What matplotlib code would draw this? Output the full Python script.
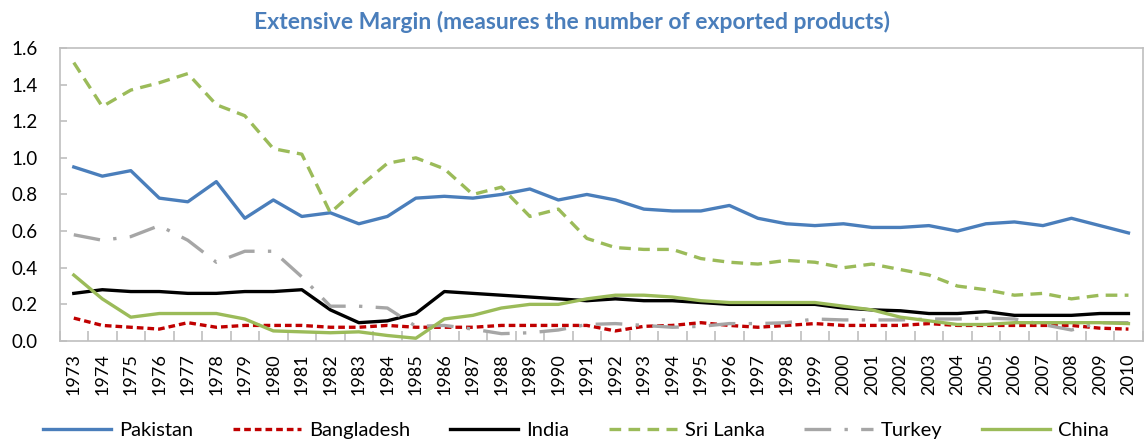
import matplotlib.pyplot as plt
import numpy as np

years = [str(y) for y in range(1973, 2011)]

pakistan = [0.95, 0.90, 0.93, 0.78, 0.76, 0.87, 0.67, 0.77, 0.68, 0.70,
            0.64, 0.68, 0.78, 0.79, 0.78, 0.80, 0.83, 0.77, 0.80, 0.77,
            0.72, 0.71, 0.71, 0.74, 0.67, 0.64, 0.63, 0.64, 0.62, 0.62,
            0.63, 0.60, 0.64, 0.65, 0.63, 0.67, 0.63, 0.59]
bangladesh = [0.125, 0.085, 0.075, 0.065, 0.10, 0.075, 0.085, 0.085, 0.085, 0.075,
              0.075, 0.085, 0.075, 0.075, 0.075, 0.085, 0.085, 0.085, 0.085, 0.055,
              0.08, 0.085, 0.10, 0.085, 0.075, 0.085, 0.095, 0.085, 0.085, 0.085,
              0.095, 0.085, 0.085, 0.085, 0.085, 0.085, 0.07, 0.065]
india = [0.26, 0.28, 0.27, 0.27, 0.26, 0.26, 0.27, 0.27, 0.28, 0.17,
         0.10, 0.11, 0.15, 0.27, 0.26, 0.25, 0.24, 0.23, 0.22, 0.23,
         0.22, 0.22, 0.21, 0.20, 0.20, 0.20, 0.20, 0.18, 0.17, 0.165,
         0.15, 0.15, 0.16, 0.14, 0.14, 0.14, 0.15, 0.15]
sri_lanka = [1.52, 1.28, 1.37, 1.41, 1.46, 1.29, 1.23, 1.05, 1.02, 0.70,
             0.84, 0.97, 1.00, 0.94, 0.80, 0.84, 0.68, 0.72, 0.56, 0.51,
             0.50, 0.50, 0.45, 0.43, 0.42, 0.44, 0.43, 0.40, 0.42, 0.39,
             0.36, 0.30, 0.28, 0.25, 0.26, 0.23, 0.25, 0.25]
turkey = [0.58, 0.55, 0.57, 0.63, 0.55, 0.43, 0.49, 0.49, 0.35, 0.19,
          0.19, 0.18, 0.08, 0.085, 0.065, 0.04, 0.045, 0.06, 0.09, 0.095,
          0.085, 0.075, 0.08, 0.095, 0.095, 0.10, 0.12, 0.115, 0.115, 0.115,
          0.12, 0.12, 0.125, 0.12, 0.09, 0.06, 0.10, 0.10]
china = [0.36, 0.23, 0.13, 0.15, 0.15, 0.15, 0.12, 0.055, 0.05, 0.045,
         0.05, 0.03, 0.015, 0.12, 0.14, 0.18, 0.20, 0.20, 0.23, 0.25,
         0.25, 0.24, 0.22, 0.21, 0.21, 0.21, 0.21, 0.19, 0.17, 0.13,
         0.11, 0.09, 0.09, 0.10, 0.10, 0.10, 0.10, 0.095]

plt.rcParams['font.family'] = ['Lato', 'DejaVu Sans']

fig = plt.figure(figsize=(11.45, 4.44), dpi=100)
ax = fig.add_axes([0.052, 0.232, 0.946, 0.66])
x = np.arange(len(years))

ax.plot(x, pakistan, color='#4A7EBB', lw=2.4, label='Pakistan')
ax.plot(x, bangladesh, color='#C00000', lw=2.4, dashes=(2, 1.2), label='Bangladesh')
ax.plot(x, india, color='black', lw=2.4, label='India')
ax.plot(x, sri_lanka, color='#9BBB59', lw=2.4, dashes=(3.5, 2.2), label='Sri Lanka')
ax.plot(x, turkey, color='#A6A6A6', lw=2.4, dashes=(8, 4, 1, 4), label='Turkey')
ax.plot(x, china, color='#9BBB59', lw=2.4, label='China')

ax.set_xlim(-0.5, len(years) - 0.5)
ax.set_ylim(0, 1.6)
ax.set_yticks(np.arange(0, 1.61, 0.2))
ax.set_yticklabels([f'{v:.1f}' for v in np.arange(0, 1.61, 0.2)], fontsize=13.5)
ax.set_xticks(x)
ax.set_xticklabels(years, rotation=90, fontsize=13)
ax.set_xticks(np.arange(-0.5, len(years), 1), minor=True)
ax.tick_params(axis='x', which='major', length=0, pad=9)
ax.tick_params(axis='x', which='minor', length=7, direction='in', color='#BFBFBF', width=1.2)
ax.tick_params(axis='y', length=5, direction='in', color='#BFBFBF', width=1.2, pad=16)
for s in ax.spines.values():
    s.set_color('#BFBFBF')
    s.set_linewidth(1.2)

fig.suptitle('Extensive Margin (measures the number of exported products)',
             x=0.5, y=0.975, fontsize=16.5, fontweight='bold', color='#4A7EBB')

fig.legend(loc='center', bbox_to_anchor=(0.503, 0.03), ncol=6, frameon=False,
           fontsize=14.5, handlelength=3.4, columnspacing=1.95, handletextpad=0.4)

fig.savefig('out.png', dpi=100)
